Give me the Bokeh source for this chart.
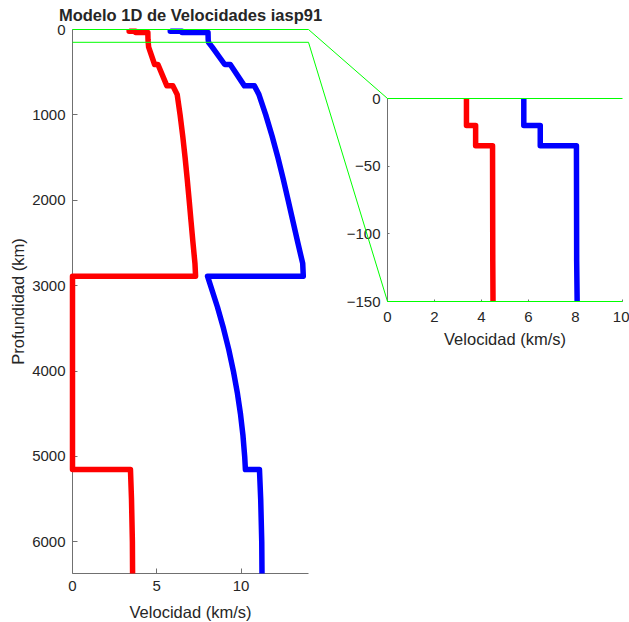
from bokeh.plotting import figure
from bokeh.models import ColumnDataSource, Range1d, LinearAxis, FixedTicker, Label
from bokeh.embed import file_html
from bokeh.resources import INLINE

# IASP91 Earth model: depth (km) with P- and S-wave velocities (km/s).
# Repeated depths mark the discontinuities.
DEPTH = [0, 20, 20, 35, 35, 120, 150, 210, 210, 410, 410, 660, 660, 760,
         1000, 1250, 1500, 1750, 2000, 2250, 2500, 2740, 2889, 2889,
         3250, 3500, 3750, 4000, 4250, 4500, 4750, 5000, 5153.9, 5153.9,
         5500, 6000, 6371]
VP = [5.80, 5.80, 6.50, 6.50, 8.04, 8.05, 8.07, 8.30, 8.30, 9.03, 9.36, 10.20, 10.79, 11.0557,
      11.4640, 11.8431, 12.1849, 12.4987, 12.7944, 13.0816, 13.3697, 13.6564, 13.6908, 8.0088,
      8.5987, 8.9558, 9.2709, 9.5438, 9.7746, 9.9633, 10.1099, 10.2144, 10.2578, 11.0914,
      11.1644, 11.2270, 11.2409]
VS = [3.36, 3.36, 3.75, 3.75, 4.47, 4.48, 4.49, 4.518, 4.522, 4.87, 5.07, 5.60, 5.95, 6.2095,
      6.3833, 6.5408, 6.6796, 6.8046, 6.9210, 7.0339, 7.1484, 7.2645, 7.3015, 0.0,
      0.0, 0.0, 0.0, 0.0, 0.0, 0.0, 0.0, 0.0, 0.0, 3.4385,
      3.5000, 3.5528, 3.5645]

EARTH_RADIUS = 6371
MAIN_X_MAX = 14
MAIN_X_TICKS = [0, 5, 10]
MAIN_Y_TICKS = [0, 1000, 2000, 3000, 4000, 5000, 6000]

ZOOM_DEPTH = 150          # near-surface window shown enlarged
INSET_X_MAX = 10
INSET_X_TICKS = [0, 2, 4, 6, 8, 10]
INSET_Y_TICKS = [-150, -100, -50, 0]

TITLE = "Modelo 1D de Velocidades iasp91"
X_LABEL = "Velocidad (km/s)"
Y_LABEL = "Profundidad (km)"

# ---- page geometry (pixels); the frame covers the whole canvas ----
W, H = 629, 622
MAIN_L, MAIN_R, MAIN_T, MAIN_B = 72, 308, 29, 573      # main axes box
INS_L, INS_R, INS_T, INS_B = 387, 622, 98, 301         # inset axes box

# main data ranges spanning the whole frame
sx = (MAIN_R - MAIN_L) / MAIN_X_MAX
sy = (MAIN_B - MAIN_T) / EARTH_RADIUS
x0 = -MAIN_L / sx
x1 = x0 + W / sx
d_top = -MAIN_T / sy
d_bot = d_top + H / sy

# inset data ranges spanning the whole frame
isx = (INS_R - INS_L) / INSET_X_MAX
isy = (INS_B - INS_T) / ZOOM_DEPTH
ix0 = -INS_L / isx
ix1 = ix0 + W / isx
iy_top = INS_T / isy
iy_bot = iy_top - H / isy


def inset_to_main(ix, iy):
    """Convert an inset (velocity, -depth) point into main-plot coordinates."""
    px = (ix - ix0) * isx
    py = (iy_top - iy) * isy
    return x0 + px / sx, d_top + py / sy


FONT = "Liberation Sans"
TEXT = "#262626"
AXIS = "#707070"

p = figure(frame_width=W, frame_height=H,
           min_border_left=0, min_border_top=0, min_border_right=0, min_border_bottom=0,
           x_range=Range1d(x0, x1), y_range=Range1d(d_bot, d_top),
           x_axis_type=None, y_axis_type=None, title=None,
           output_backend="svg", toolbar_location=None)
p.extra_x_ranges = {"ix": Range1d(ix0, ix1)}
p.extra_y_ranges = {"iy": Range1d(iy_bot, iy_top)}
p.outline_line_color = None
p.background_fill_color = "white"
p.border_fill_color = "white"

main = ColumnDataSource(dict(depth=DEPTH, vp=VP, vs=VS))
near_idx = [i for i, d in enumerate(DEPTH) if d <= ZOOM_DEPTH]
near = ColumnDataSource(dict(neg_depth=[-DEPTH[i] for i in near_idx],
                             vp=[VP[i] for i in near_idx],
                             vs=[VS[i] for i in near_idx]))

LW = 5.5
p.line("vs", "depth", source=main, line_color="#ff0000", line_width=LW, line_join="round")
p.line("vp", "depth", source=main, line_color="#0000ff", line_width=LW, line_join="round")
p.line("vs", "neg_depth", source=near, x_range_name="ix", y_range_name="iy",
       line_color="#ff0000", line_width=LW, line_join="round")
p.line("vp", "neg_depth", source=near, x_range_name="ix", y_range_name="iy",
       line_color="#0000ff", line_width=LW, line_join="round")

# zoom box edges and connectors to the inset
top_pts = [(0, 0), (MAIN_X_MAX, 0), inset_to_main(0, 0), inset_to_main(INSET_X_MAX, 0)]
bot_pts = [(0, ZOOM_DEPTH), (MAIN_X_MAX, ZOOM_DEPTH),
           inset_to_main(0, -ZOOM_DEPTH), inset_to_main(INSET_X_MAX, -ZOOM_DEPTH)]
p.multi_line(xs=[[q[0] for q in top_pts], [q[0] for q in bot_pts]],
             ys=[[q[1] for q in top_pts], [q[1] for q in bot_pts]],
             line_color="#00ff00", line_width=1)


def style_axis(ax, tick_len, standoff):
    ax.axis_line_color = AXIS
    ax.axis_line_width = 1
    ax.major_tick_line_color = AXIS
    ax.major_tick_in = tick_len
    ax.major_tick_out = 0
    ax.minor_tick_line_color = None
    ax.major_label_text_font = FONT
    ax.major_label_text_font_size = "15px"
    ax.major_label_text_color = TEXT
    ax.major_label_standoff = standoff
    ax.level = "underlay"


y_main = LinearAxis(fixed_location=0, bounds=(0, EARTH_RADIUS), ticker=FixedTicker(ticks=MAIN_Y_TICKS),
                    axis_label=Y_LABEL)
style_axis(y_main, 5, 7)
y_main.axis_label_text_font = FONT
y_main.axis_label_text_font_size = "16.5px"
y_main.axis_label_text_font_style = "normal"
y_main.axis_label_text_color = TEXT
y_main.axis_label_standoff = 2
p.add_layout(y_main, "left")

x_main = LinearAxis(fixed_location=EARTH_RADIUS, bounds=(0, MAIN_X_MAX),
                    ticker=FixedTicker(ticks=MAIN_X_TICKS))
style_axis(x_main, 5, 7)
p.add_layout(x_main, "below")

y_ins = LinearAxis(x_range_name="ix", y_range_name="iy", fixed_location=0,
                   bounds=(-ZOOM_DEPTH, 0), ticker=FixedTicker(ticks=INSET_Y_TICKS))
style_axis(y_ins, 2, 7)
p.add_layout(y_ins, "left")

x_ins = LinearAxis(x_range_name="ix", y_range_name="iy", fixed_location=-ZOOM_DEPTH,
                   bounds=(0, INSET_X_MAX), ticker=FixedTicker(ticks=INSET_X_TICKS))
style_axis(x_ins, 2, 10)
p.add_layout(x_ins, "below")


def text_label(**kw):
    lab = Label(text_font=FONT, text_color=TEXT, text_align="center",
                text_baseline="alphabetic", **kw)
    p.add_layout(lab)


text_label(x=MAIN_X_MAX / 2, y=0, y_offset=15, text=TITLE,
           text_font_size="16.5px", text_font_style="bold")
text_label(x=MAIN_X_MAX / 2, y=EARTH_RADIUS, y_offset=-38, text=X_LABEL, text_font_size="16.5px")
text_label(x=INSET_X_MAX / 2, y=-ZOOM_DEPTH, y_offset=-37, text=X_LABEL, text_font_size="16.5px",
           x_range_name="ix", y_range_name="iy")

open("out.html", "w").write(file_html(p, INLINE))
